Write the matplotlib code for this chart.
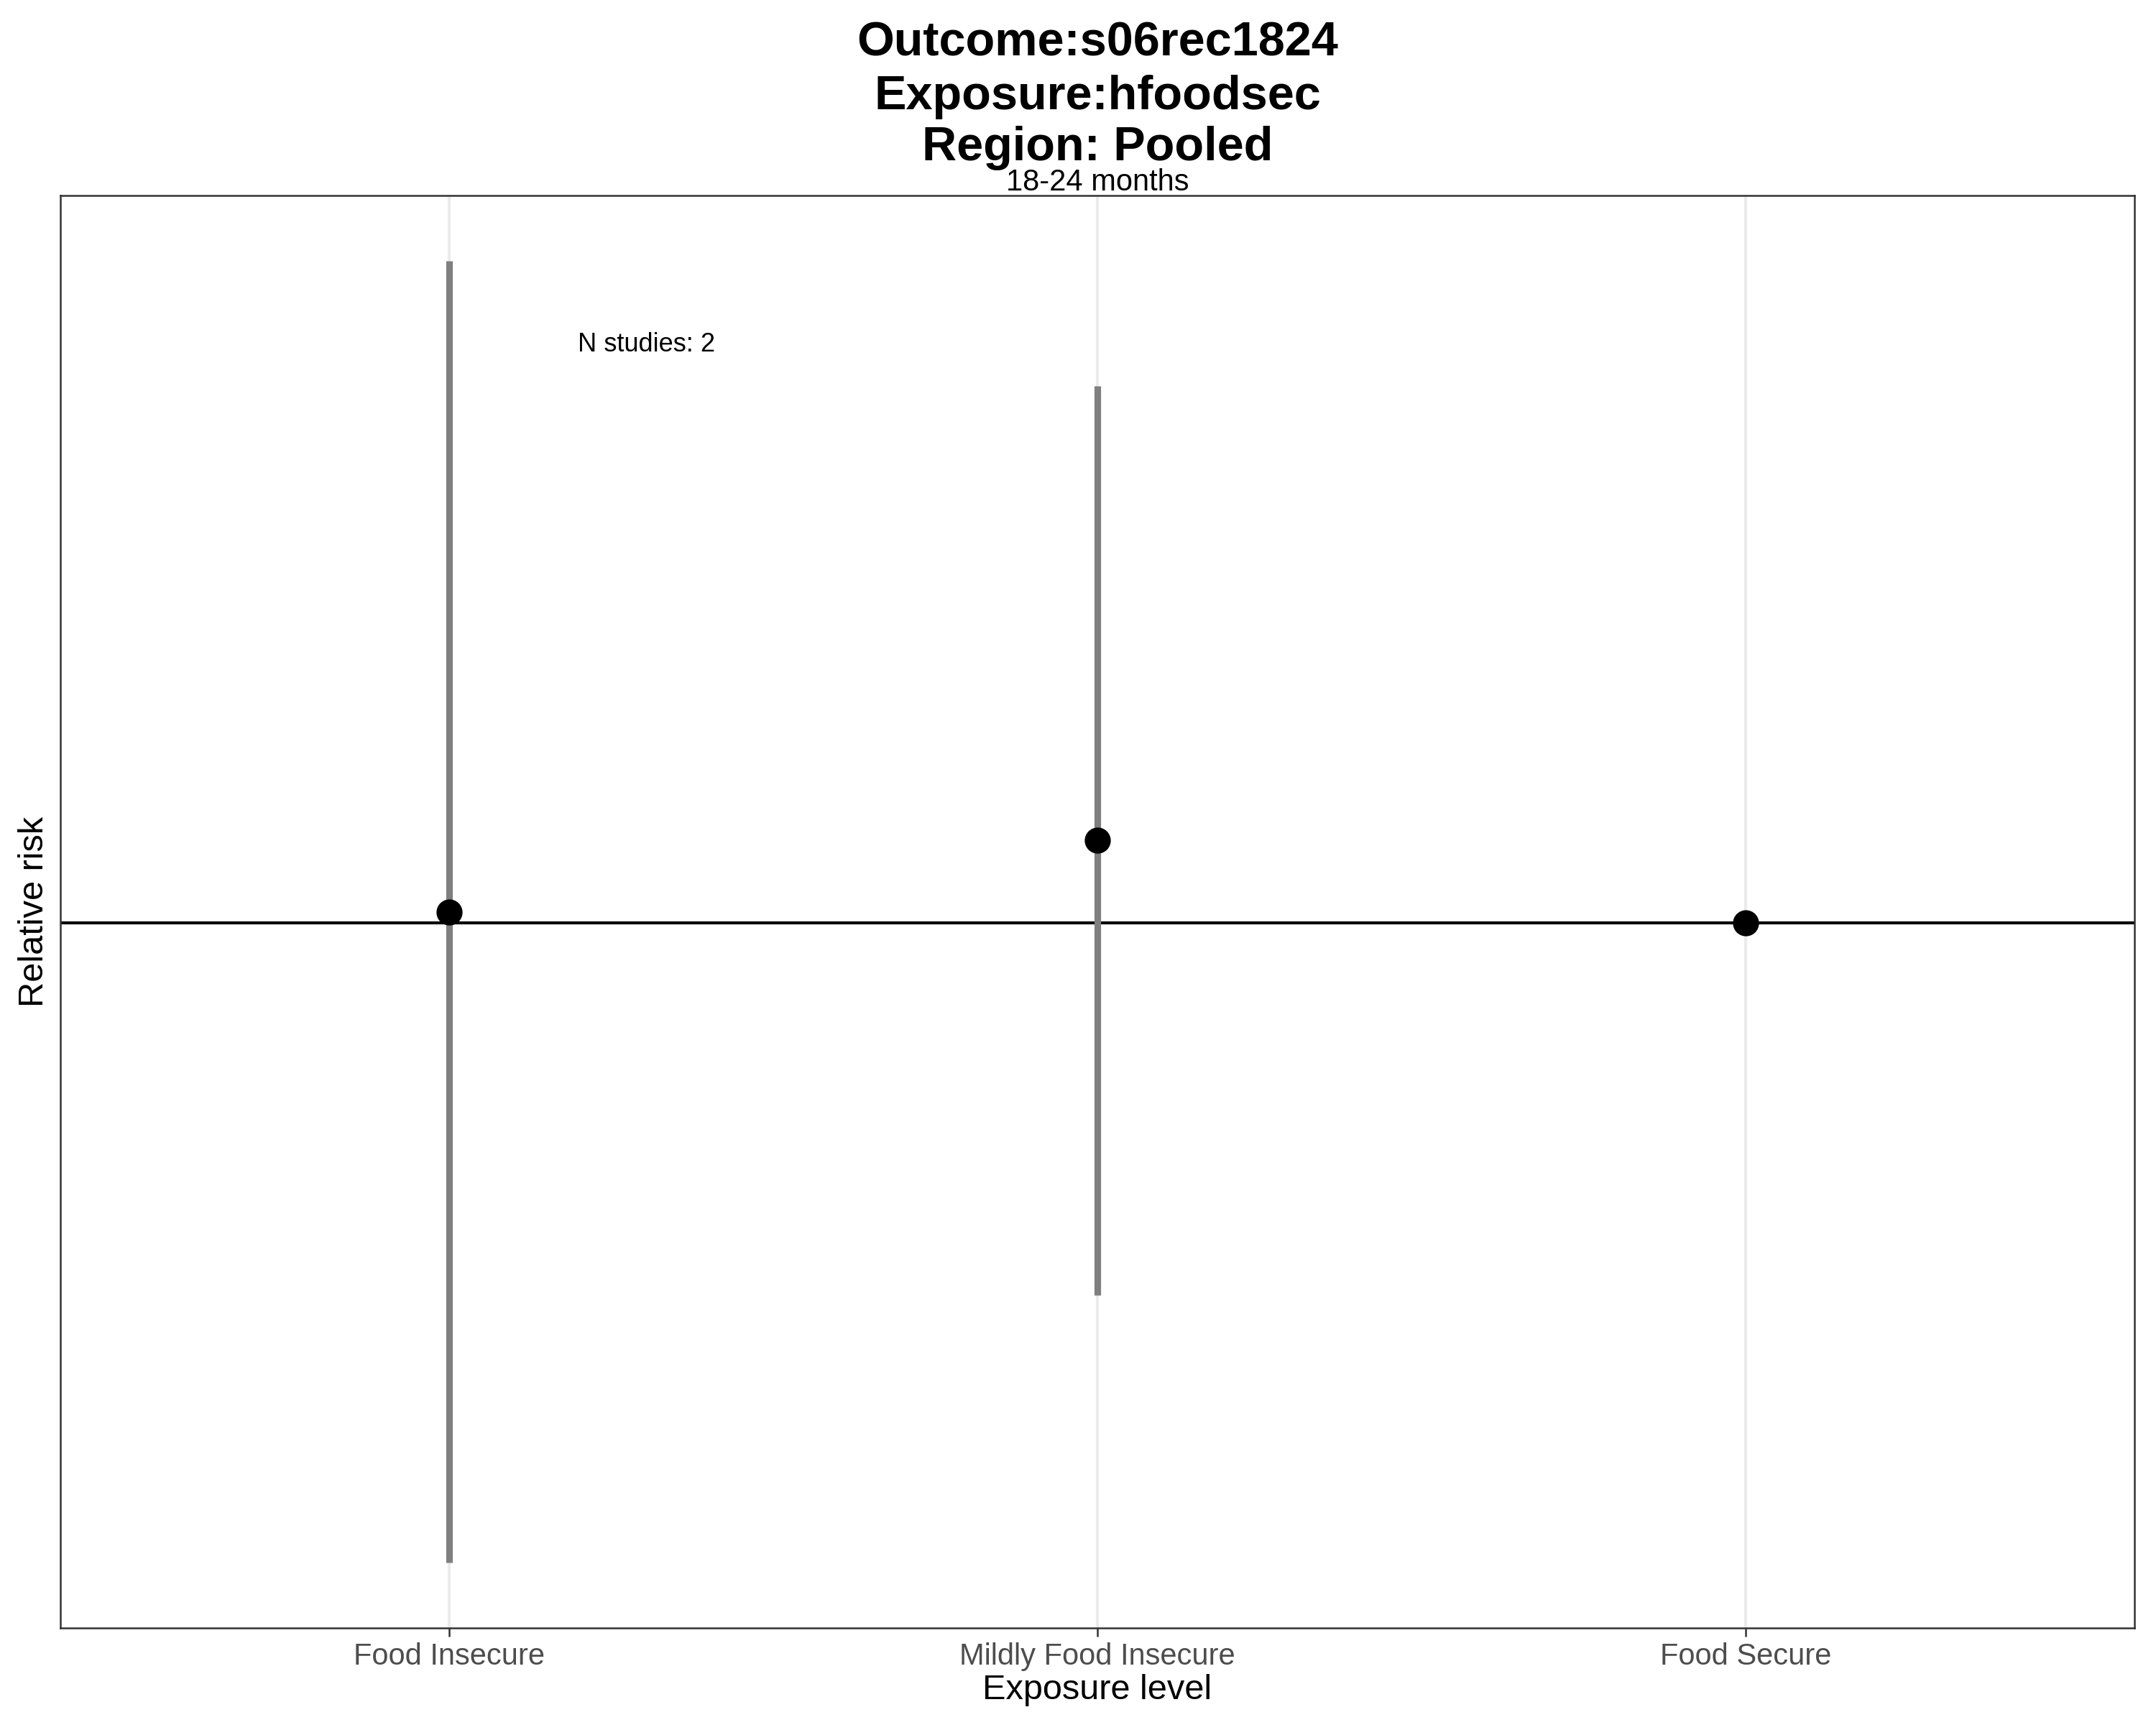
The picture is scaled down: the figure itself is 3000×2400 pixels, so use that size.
import numpy as np
import matplotlib
matplotlib.use("Agg")
from matplotlib import pyplot as plt

# pooled relative risks by exposure level
levels = ["Food Insecure", "Mildly Food Insecure", "Food Secure"]
rr = [1.03, 1.25, 1.0]
ci_lower = [0.177, 0.365, 1.0]
ci_upper = [6.0, 4.27, 1.0]
n_studies = 2

plt.rcParams['font.family'] = ['Liberation Sans', 'DejaVu Sans']

fig = plt.figure(figsize=(10, 8), dpi=300)
ax = fig.add_axes([0.028, 0.0563, 0.962, 0.8304])

x = np.arange(len(levels))
ax.axhline(1, color="black", lw=1.0, zorder=2)
ax.vlines(x, ci_lower, ci_upper, color="#7f7f7f", lw=2.2, zorder=3)
ax.plot(x, rr, "o", color="black", ms=7.7, zorder=4)
ax.text(0.304, 4.78, "N studies: " + str(n_studies), ha="center", va="center",
        fontsize=8.7, color="black")

ax.set_yscale("log")
lo, hi = np.log10(min(ci_lower)), np.log10(max(ci_upper))
pad = (hi - lo) * 0.05
ax.set_ylim(10 ** (lo - pad), 10 ** (hi + pad))
ax.set_xlim(-0.6, len(levels) - 0.4)
ax.yaxis.set_major_locator(matplotlib.ticker.NullLocator())
ax.yaxis.set_minor_locator(matplotlib.ticker.NullLocator())

ax.set_xticks(x)
ax.set_xticklabels(levels, fontsize=10, color="#4d4d4d")
ax.tick_params(axis="x", length=2.9, width=0.6, color="#333333", pad=2.0)
ax.grid(axis="x", color="#ebebeb", lw=1.0, zorder=0)
ax.set_axisbelow(True)
for s in ax.spines.values():
    s.set_color("#333333")
    s.set_linewidth(0.6)

ax.set_xlabel("Exposure level", fontsize=11.7, labelpad=1)
ax.set_ylabel("Relative risk", fontsize=11.7, labelpad=3.4)

cx = 0.028 + 0.962 / 2
fig.text(cx, 1 - 78 / 2400, "Outcome:s06rec1824", ha="center", va="baseline",
         fontsize=16, fontweight="bold")
fig.text(cx, 1 - 152 / 2400, "Exposure:hfoodsec", ha="center", va="baseline",
         fontsize=16, fontweight="bold")
fig.text(cx, 1 - 223 / 2400, "Region: Pooled", ha="center", va="baseline",
         fontsize=16, fontweight="bold")
fig.text(cx, 1 - 265 / 2400, "18-24 months", ha="center", va="baseline",
         fontsize=10)

fig.savefig("out.png", dpi=300, facecolor="white")
